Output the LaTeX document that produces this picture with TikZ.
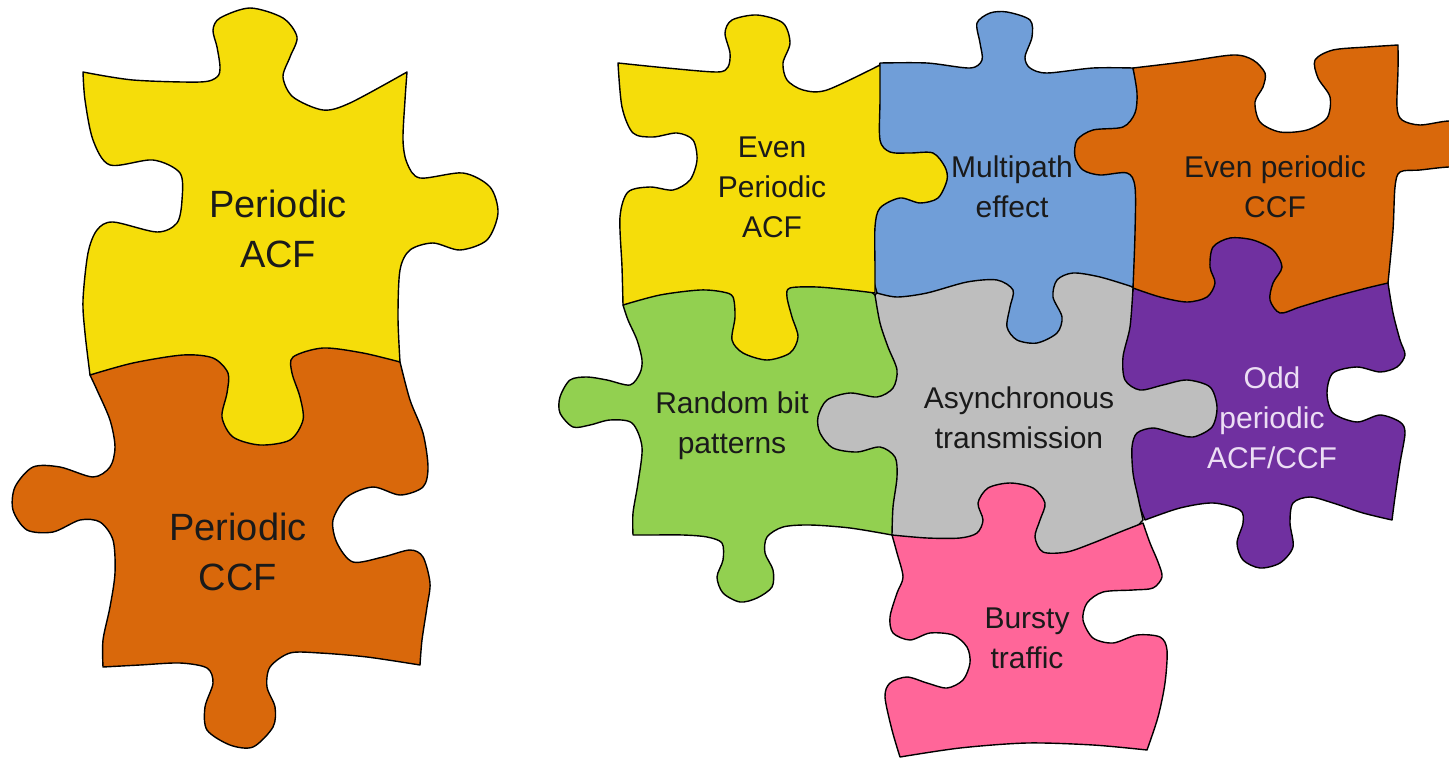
\documentclass[tikz,border=0pt]{standalone}
\usepackage{fontspec}
\setmainfont{Liberation Sans}
\definecolor{pzyellow}{RGB}{245,221,10}
\definecolor{pzorange}{RGB}{217,104,11}
\definecolor{pzblue}{RGB}{112,158,216}
\definecolor{pzgreen}{RGB}{146,208,80}
\definecolor{pzgray}{RGB}{190,190,190}
\definecolor{pzpurple}{RGB}{112,48,160}
\definecolor{pzpink}{RGB}{255,102,153}
\definecolor{pztext}{RGB}{26,26,26}
\definecolor{pzlilac}{RGB}{236,222,244}
\begin{document}
\begin{tikzpicture}[x=1pt,y=-1pt,
  piece/.style={draw=black,line width=1.4pt,line join=round},
  sm/.style={smooth,tension=0.5},
  lab/.style={anchor=base,inner sep=0pt,text=pztext},
  big/.style={lab,font=\fontsize{38}{50}\selectfont},
  small/.style={lab,font=\fontsize{30}{40}\selectfont}]
\useasboundingbox (0,0) rectangle (1449,758);
\clip (0,0) rectangle (1449,758);
\fill[white] (0,0) rectangle (1449,758);

% ---------- left pair ----------
% lower piece (its top edge lies under the upper piece)
\filldraw[piece,fill=pzorange] (90,375) -- (150,345) -- (350,338) -- (400,362)
  -- plot[sm] coordinates {(400,362) (410,400) (423,433) (428,467) (423,487) (400,495) (373,487) (347,497) (333,520) (337,543) (353,562) (383,557) (410,550) (423,557) (430,583) (427,607) (422,640) (420,665)}
  -- plot[sm] coordinates {(420,665) (367,657) (320,653) (290,653) (270,667) (267,687) (275,707) (273,727) (253,747) (230,745) (207,730) (205,707) (213,683) (207,668) (180,663) (140,665) (103,667)}
  -- plot[sm] coordinates {(103,667) (103,640) (110,607) (115,573) (113,540) (100,522) (80,520) (53,532) (27,530) (13,510) (15,487) (33,467) (60,467) (93,477) (110,467) (115,447) (110,420) (97,390) (90,375)}
  -- cycle;
% upper piece
\filldraw[piece,fill=pzyellow]
  plot[sm] coordinates {(83,72) (133,80) (200,82) (217,77) (220,67) (217,47) (213,30) (220,18) (250,8) (283,18) (297,37) (290,57) (283,77) (293,97) (323,110) (350,103) (407,72)}
  -- plot[sm] coordinates {(407,72) (405,100) (403,140) (407,163) (420,178) (463,173) (490,187) (498,213) (487,240) (460,250) (433,243) (410,250) (400,270) (398,317) (400,362)}
  -- plot[sm] coordinates {(400,362) (363,353) (323,348) (293,357) (292,373) (300,397) (303,420) (290,440) (260,445) (233,437) (222,417) (227,393) (228,373) (213,358) (183,355) (133,363) (90,375)}
  -- plot[sm] coordinates {(90,375) (85,333) (83,300) (88,253) (97,230) (113,222) (157,232) (177,223) (182,200) (180,173) (153,160) (110,165) (93,140) (85,100) (83,72)}
  -- cycle;

% ---------- right cluster ----------
% random bit patterns
\filldraw[piece,fill=pzgreen] (623,305) -- (680,282) -- (860,282) -- (875,295) -- (905,340) -- (905,520) -- (892,535)
  -- plot[sm] coordinates {(892,535) (850,528) (810,525) (783,527) (767,537) (765,553) (773,570) (772,587) (757,598) (740,602) (723,593) (717,577) (723,560) (722,543) (707,537) (683,535) (650,535) (633,535)}
  -- plot[sm] coordinates {(633,535) (633,513) (638,483) (642,447) (632,423) (610,420) (590,425) (573,427) (560,413) (560,397) (570,380) (587,377) (607,380) (630,385) (640,373) (642,360) (637,340) (628,320) (623,305)}
  -- cycle;
% odd periodic
\filldraw[piece,fill=pzpurple] (1133,290) -- (1150,232) -- (1383,232) -- (1388,283)
  -- plot[sm] coordinates {(1388,283) (1393,313) (1400,340) (1405,355) (1397,367) (1380,372) (1357,367) (1333,373) (1327,393) (1333,413) (1357,422) (1380,415) (1400,422) (1405,433) (1400,463) (1395,497) (1392,520)}
  -- plot[sm] coordinates {(1392,520) (1363,513) (1333,503) (1310,497) (1293,503) (1290,523) (1293,547) (1280,563) (1260,568) (1243,560) (1237,543) (1243,523) (1240,510) (1213,503) (1180,508) (1145,520)}
  -- (1125,470) -- (1115,430) -- (1110,370) -- cycle;
% asynchronous transmission
\filldraw[piece,fill=pzgray] (875,295) -- (900,268) -- (1110,262) -- (1133,288)
  -- plot[sm] coordinates {(1133,288) (1130,327) (1123,357) (1125,380) (1140,390) (1163,385) (1187,380) (1210,387) (1217,407) (1212,427) (1193,437) (1173,433) (1153,428) (1137,433) (1132,447) (1133,473) (1138,497) (1143,520)}
  -- (1100,567) -- (920,562) -- (892,535)
  -- plot[sm] coordinates {(892,535) (893,507) (897,477) (895,457) (880,447) (857,452) (833,448) (820,433) (818,417) (827,400) (850,393) (877,397) (893,388) (897,370) (888,347) (880,323) (875,295)}
  -- cycle;
% multipath effect
\filldraw[piece,fill=pzblue]
  plot[sm] coordinates {(880,63) (927,63) (970,68) (982,60) (980,43) (977,23) (990,13) (1007,12) (1030,20) (1032,37) (1025,57) (1030,68) (1047,73) (1093,68) (1133,68)}
  -- (1141,100) -- (1143,260) -- (1133,287)
  -- plot[sm] coordinates {(1133,287) (1100,277) (1073,273) (1057,280) (1053,297) (1062,317) (1057,333) (1037,343) (1017,340) (1007,327) (1010,307) (1013,290) (997,280) (967,282) (927,293) (897,297) (877,293)}
  -- (868,260) -- (872,100) -- cycle;
% even periodic CCF
\filldraw[piece,fill=pzorange]
  plot[sm] coordinates {(1133,68) (1183,62) (1233,55) (1253,60) (1265,73) (1263,87) (1255,102) (1260,122) (1280,132) (1307,130) (1327,118) (1330,97) (1318,78) (1315,60) (1333,50) (1367,47) (1398,45)}
  -- plot[sm] coordinates {(1398,45) (1398,70) (1397,107) (1402,120) (1420,125) (1449,121) (1475,124)}
  -- (1475,168)
  -- plot[sm] coordinates {(1475,168) (1449,167) (1420,170) (1400,172) (1395,187) (1393,230) (1388,283)}
  -- plot[sm] coordinates {(1388,283) (1367,288) (1333,297) (1300,307) (1280,313) (1270,300) (1273,283) (1282,267) (1273,250) (1253,240) (1230,238) (1213,247) (1210,267) (1215,283) (1207,297) (1187,302) (1160,297) (1133,288)}
  -- plot[sm] coordinates {(1133,288) (1135,233) (1135,187) (1127,173) (1100,175) (1083,170) (1075,157) (1077,140) (1093,130) (1123,127) (1135,113) (1137,93) (1133,68)}
  -- cycle;
% even periodic ACF
\filldraw[piece,fill=pzyellow]
  plot[sm] coordinates {(618,63) (667,68) (717,72) (728,67) (730,53) (725,33) (732,20) (757,15) (783,23) (790,43) (783,63) (787,80) (803,90) (827,90) (880,65)}
  -- plot[sm] coordinates {(880,65) (880,100) (880,140) (890,152) (910,153) (933,153) (945,167) (947,180) (938,198) (920,203) (900,198) (880,208) (875,227) (875,267) (875,293)}
  -- plot[sm] coordinates {(875,293) (850,290) (817,287) (790,288) (787,297) (792,317) (798,337) (790,353) (767,360) (743,353) (732,340) (735,317) (733,297) (723,292) (700,290) (660,295) (623,305)}
  -- plot[sm] coordinates {(623,305) (622,267) (620,217) (628,192) (650,187) (673,190) (690,180) (697,160) (693,140) (677,133) (653,137) (633,133) (622,107) (618,63)}
  -- cycle;
% bursty traffic
\filldraw[piece,fill=pzpink]
  plot[sm] coordinates {(892,535) (927,538) (960,538) (977,533) (983,520) (978,503) (988,488) (1010,483) (1033,488) (1045,503) (1040,520) (1035,537) (1043,552) (1067,552) (1093,543) (1120,532) (1143,523)}
  -- plot[sm] coordinates {(1143,523) (1150,543) (1158,562) (1162,577) (1153,588) (1133,590) (1103,592) (1087,603) (1083,620) (1093,638) (1113,643) (1137,635) (1160,637) (1167,650) (1165,683) (1158,717) (1147,750)}
  -- plot[sm] coordinates {(1147,750) (1093,745) (1027,743) (960,748) (900,757)}
  -- plot[sm] coordinates {(900,757) (892,730) (885,697) (890,683) (907,677) (927,683) (947,688) (963,680) (970,663) (967,647) (953,635) (930,633) (910,640) (893,633) (890,617) (897,593) (903,577) (897,553) (892,535)}
  -- cycle;

% ---------- labels ----------
\node[big] (pacf1) at (278,217) {Periodic};
\node[big] (pacf2) at (278,267) {ACF};
\node[big] (pccf1) at (238,540) {Periodic};
\node[big] (pccf2) at (238,590) {CCF};
\node[small] (epa1) at (772,157) {Even};
\node[small] (epa2) at (772,197) {Periodic};
\node[small] (epa3) at (772,237) {ACF};
\node[small] (mpe1) at (1012,177) {Multipath};
\node[small] (mpe2) at (1012,217) {effect};
\node[small] (epc1) at (1275,177) {Even periodic};
\node[small] (epc2) at (1275,217) {CCF};
\node[small] (rbp1) at (732,413) {Random bit};
\node[small] (rbp2) at (732,453) {patterns};
\node[small] (asy1) at (1019,408) {Asynchronous};
\node[small] (asy2) at (1019,448) {transmission};
\node[small,text=pzlilac] (opd1) at (1272,388) {Odd};
\node[small,text=pzlilac] (opd2) at (1272,428) {periodic};
\node[small,text=pzlilac] (opd3) at (1272,468) {ACF/CCF};
\node[small] (bur1) at (1027,628) {Bursty};
\node[small] (bur2) at (1027,668) {traffic};
\end{tikzpicture}
\end{document}
